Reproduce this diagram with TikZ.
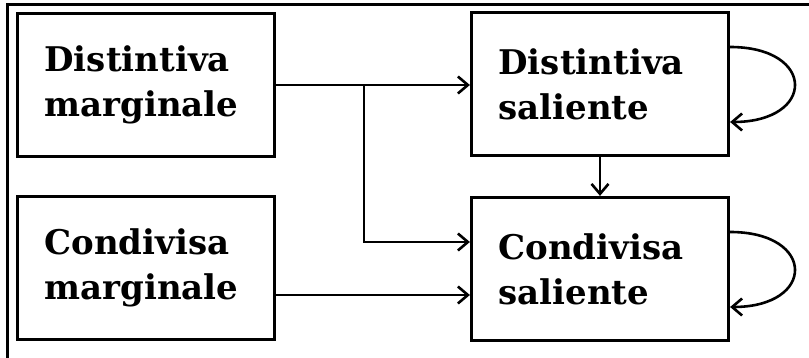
\documentclass[tikz,border=0pt]{standalone}
\usepackage{fontspec}
\setmainfont{DejaVu Serif}
\usetikzlibrary{arrows.meta}
\tikzset{
    stato/.style={draw, line width=3.2pt, minimum width=257pt, minimum height=143pt,
        text width=203pt, inner xsep=27pt, align=left,
        font=\fontsize{34}{45}\selectfont\bfseries},
    freccia/.style={line width=2.6pt, -{Straight Barb[length=10pt,width=17pt]}}
}
\begin{document}
\begin{tikzpicture}[x=1pt,y=-1pt]
        \useasboundingbox (0,0) rectangle (809,358);
        % cornice
        \draw[line width=3pt] (7,360) -- (7,5) -- (812,5);
        % stati
        \node[stato] (dm) at (146,85) {Distintiva\\marginale};
        \node[stato] (cm) at (146,268) {Condivisa\\marginale};
        \node[stato] (ds) at (600,84) {Distintiva\\saliente};
        \node[stato] (cs) at (600,269) {Condivisa\\saliente};
        \coordinate (split) at (364,85);
        \draw[freccia] (dm.east) -- (dm.east -| ds.west);
        \draw[freccia] (split) |- ([yshift=27pt]cs.west);
        \draw[freccia] ([yshift=-27pt]cm.east) -- ([yshift=-27pt]cm.east -| cs.west);
        \draw[freccia] (ds.south) -- (cs.north);
        % anelli
        \foreach \n in {ds,cs}
            \draw[freccia] ([yshift=37pt]\n.east) .. controls +(86,0) and +(86,0) .. ([yshift=-38pt]\n.east);
    \end{tikzpicture}
\end{document}
